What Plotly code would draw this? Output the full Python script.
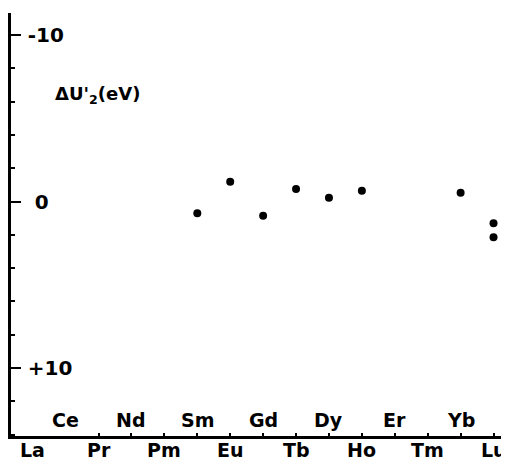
import plotly.graph_objects as go

elements = ["La", "Ce", "Pr", "Nd", "Pm", "Sm", "Eu", "Gd", "Tb", "Dy", "Ho", "Er", "Tm", "Yb", "Lu"]
bottom_row = ["La", "Pr", "Pm", "Eu", "Tb", "Ho", "Tm", "Lu"]
top_row = ["Ce", "Nd", "Sm", "Gd", "Dy", "Er", "Yb"]
point_elements = ["Sm", "Eu", "Gd", "Tb", "Dy", "Ho", "Yb", "Lu", "Lu"]
dU2 = [0.71, -1.19, 0.85, -0.75, -0.23, -0.65, -0.53, 1.31, 2.15]
y_tickvals = [-10, 0, 10]
y_ticktext = ["-10", "\u00a00", "+10"]

FONT = "DejaVu Sans"

fig = go.Figure()
fig.add_trace(go.Scatter(
    x=point_elements, y=dU2, mode="markers",
    marker=dict(size=8, color="black"),
    showlegend=False, cliponaxis=False,
))

fig.update_xaxes(
    type="category", categoryorder="array", categoryarray=elements,
    range=[-0.66, 14.47], automargin=False,
    tickmode="array", tickvals=elements,
    ticktext=["" for e in elements],
    ticks="inside", ticklen=3, tickwidth=1.5, tickcolor="black",
    showline=True, linecolor="black", linewidth=2.5,
    showgrid=False, zeroline=False,
)
fig.update_yaxes(
    range=[14.08, -11.32], automargin=False,
    tickmode="array", tickvals=y_tickvals, ticktext=y_ticktext,
    ticks="inside", ticklen=10, tickwidth=2, tickcolor="black",
    ticklabelposition="inside", ticklabelstandoff=8,
    minor=dict(dtick=2, ticks="inside", ticklen=4, tickwidth=1.5, tickcolor="black"),
    showline=True, linecolor="black", linewidth=2.5,
    showgrid=False, zeroline=False,
    tickfont=dict(family=FONT, size=20, color="black", weight="bold"),
)

for e in top_row:
    fig.add_annotation(
        x=e, xref="x", y=0, yref="paper", yanchor="bottom", yshift=3,
        text=e, showarrow=False,
        font=dict(family=FONT, size=19, color="black", weight="bold"),
    )
for e in bottom_row:
    fig.add_annotation(
        x=e, xref="x", y=0, yref="paper", yanchor="top", yshift=-1,
        text=e, showarrow=False,
        font=dict(family=FONT, size=19, color="black", weight="bold"),
    )

fig.add_annotation(
    x=0.085, xref="paper", xanchor="left", y=0.805, yref="paper", yanchor="middle",
    text="\u0394U'<sub>2</sub>(eV)", showarrow=False,
    font=dict(family=FONT, size=18, color="black", weight="bold"),
)

# page body has an 8px default margin, so the figure is sized/offset to compensate
fig.update_layout(
    width=501, height=452,
    margin=dict(l=3, r=0, t=5, b=24),
    plot_bgcolor="white", paper_bgcolor="white",
)

fig.write_html("out.html")
